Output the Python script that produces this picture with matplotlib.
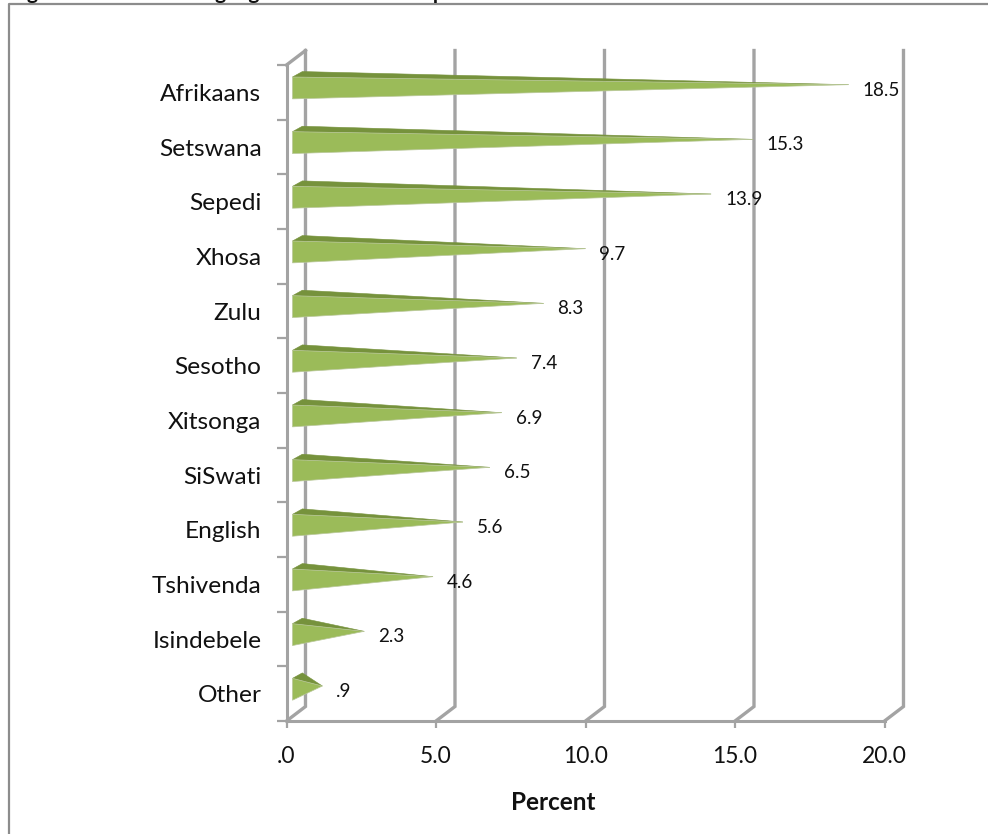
import matplotlib
matplotlib.use("Agg")
import matplotlib.pyplot as plt
from matplotlib.lines import Line2D
from matplotlib.patches import Polygon

plt.rcParams['font.family'] = ['Lato', 'DejaVu Sans']

languages = ['Afrikaans', 'Setswana', 'Sepedi', 'Xhosa', 'Zulu', 'Sesotho',
             'Xitsonga', 'SiSwati', 'English', 'Tshivenda', 'Isindebele', 'Other']
percent = [18.5, 15.3, 13.9, 9.7, 8.3, 7.4, 6.9, 6.5, 5.6, 4.6, 2.3, 0.9]
value_labels = ['18.5', '15.3', '13.9', '9.7', '8.3', '7.4', '6.9', '6.5', '5.6', '4.6', '2.3', '.9']
x_ticks = [0, 5, 10, 15, 20]
x_tick_labels = ['.0', '5.0', '10.0', '15.0', '20.0']

W, H = 988, 834
GREY = '#a3a3a3'
FRONT = '#9bbb59'
TOP = '#76923c'

# depth of the fake 3d wall, in data units
DEPTH_X = 0.635
DEPTH_Y = 0.265

fig = plt.figure(figsize=(W / 100, H / 100), dpi=100, facecolor='white')
ax = fig.add_axes([286.5 / W, 1 - 721 / H, 598 / W, 656 / H])
ax.set_xlim(0, 20)
ax.set_ylim(12, 0)
ax.patch.set_alpha(0)

for s in ['top', 'right']:
    ax.spines[s].set_visible(False)
for s in ['left', 'bottom']:
    ax.spines[s].set_color(GREY)
    ax.spines[s].set_linewidth(2.2)

ax.set_xticks(x_ticks)
ax.set_xticklabels(x_tick_labels, fontsize=16.5, color='#111111')
ax.tick_params(axis='x', length=5, width=1.6, color=GREY, pad=13)

# ticks sit between the categories, labels in the middle
ax.set_yticks(range(13))
ax.set_yticklabels([])
ax.tick_params(axis='y', which='major', length=7.5, width=1.6, color=GREY)
ax.set_yticks([i + 0.5 for i in range(12)], minor=True)
ax.set_yticklabels(languages, minor=True, fontsize=17.6, color='#111111')
ax.tick_params(axis='y', which='minor', length=0, pad=18)

# back wall lines and the floor diagonals
for v in x_ticks:
    ax.plot([v, v + DEPTH_X, v + DEPTH_X], [12, 12 - DEPTH_Y, -DEPTH_Y], color=GREY, lw=2.4,
            clip_on=False, zorder=1, solid_joinstyle='miter')
ax.plot([0, DEPTH_X], [0, -DEPTH_Y], color=GREY, lw=2.4, clip_on=False, zorder=1)

# each bar is a cone: a light front face and a darker top face
for i, (v, lab) in enumerate(zip(percent, value_labels)):
    tip = (v + 0.3, i + 0.36)
    ax.add_patch(Polygon([(0.2, i + 0.22), (0.53, i + 0.12), tip], closed=True, facecolor=TOP,
                         edgecolor=TOP, lw=0.4, zorder=3, clip_on=False))
    ax.add_patch(Polygon([(0.2, i + 0.22), (0.2, i + 0.62), tip], closed=True, facecolor=FRONT,
                         edgecolor='#b9c79a', lw=0.5, zorder=3, clip_on=False))
    ax.annotate(lab, xy=tip, xytext=(10, -4), textcoords='offset points', xycoords='data',
                fontsize=13.6, color='#111111', va='center', ha='left', zorder=5,
                annotation_clip=False)

fig.text(553 / W, 1 - 802 / H, 'Percent', fontsize=17.5, fontweight='bold', color='#111111',
         ha='center', va='center')

# heading runs off the top of the sheet, above the box
fig.text(10 / W, 1 + 1 / H, 'Figure 4.12: Home language of the overall respondents', fontsize=15,
         fontweight='bold', color='#111111', ha='left', va='baseline')

# box around the chart, only top and left are on the sheet
fig.add_artist(Line2D([8.5 / W, 8.5 / W, 1], [0, 1 - 3.5 / H, 1 - 3.5 / H], color='#8c8c8c', lw=1.6))

fig.savefig('out.png', dpi=100)
